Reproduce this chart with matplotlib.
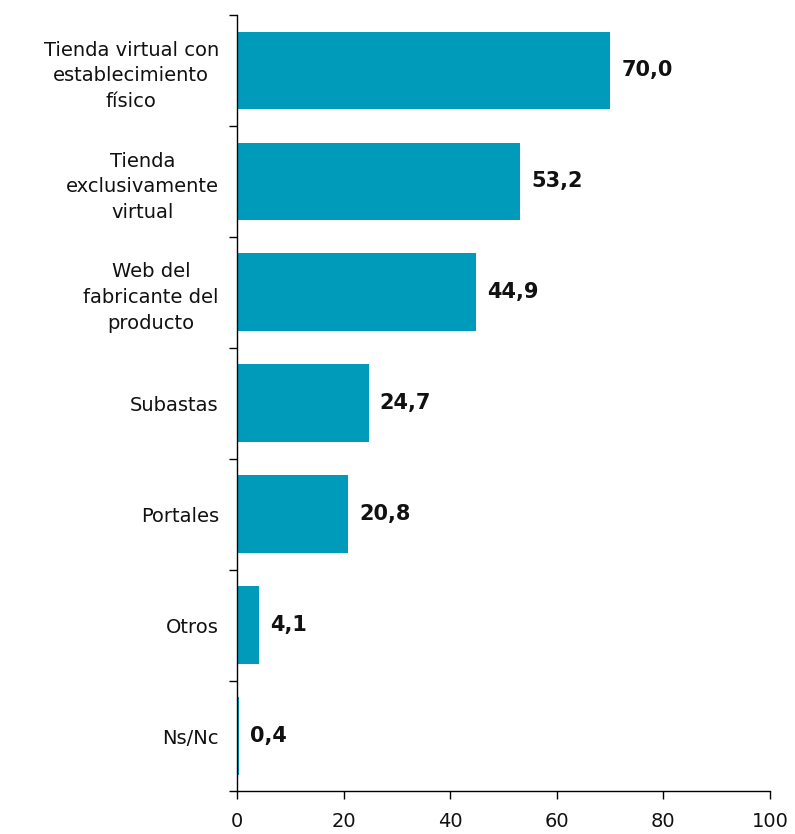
import matplotlib.pyplot as plt

# Datos
categorias = ["Tienda virtual con\nestablecimiento\nfísico",
              "Tienda\nexclusivamente\nvirtual",
              "Web del\nfabricante del\nproducto",
              "Subastas",
              "Portales",
              "Otros",
              "Ns/Nc"]
valores = [70.0, 53.2, 44.9, 24.7, 20.8, 4.1, 0.4]
etiquetas_x = [0, 20, 40, 60, 80, 100]

COLOR_BARRA = "#009BBA"

fig = plt.figure(figsize=(7.95, 8.34), dpi=100)
ax = fig.add_axes([0.298, 0.051, 0.6705, 0.931])

pos = list(range(len(categorias)))
ax.barh(pos, valores, height=0.70, color=COLOR_BARRA)

ax.set_ylim(len(categorias) - 0.5, -0.5)
ax.set_xlim(0, 100)

# etiquetas de valor
for p, v in zip(pos, valores):
    ax.annotate("{:.1f}".format(v).replace(".", ","), xy=(v, p), xytext=(8, 0),
                textcoords="offset points", va="center", ha="left",
                fontsize=15, fontweight="bold", color="#111111")

# eje y: ticks entre categorias, etiquetas centradas
ax.set_yticks([p - 0.5 for p in pos] + [len(pos) - 0.5])
ax.set_yticklabels([])
ax.set_yticks(pos, minor=True)
ax.set_yticklabels(categorias, minor=True, fontsize=14, multialignment="center",
                   linespacing=1.45, color="#111111")
ax.tick_params(axis="y", which="minor", length=0, pad=13)
ax.tick_params(axis="y", which="major", length=6, width=1)

ax.set_xticks(etiquetas_x)
ax.set_xticklabels([str(e) for e in etiquetas_x], fontsize=14, color="#111111")
ax.tick_params(axis="x", length=6, width=1, pad=9)

ax.spines["top"].set_visible(False)
ax.spines["right"].set_visible(False)
ax.spines["left"].set_linewidth(1)
ax.spines["bottom"].set_linewidth(1)

plt.savefig("out.png", dpi=100)
